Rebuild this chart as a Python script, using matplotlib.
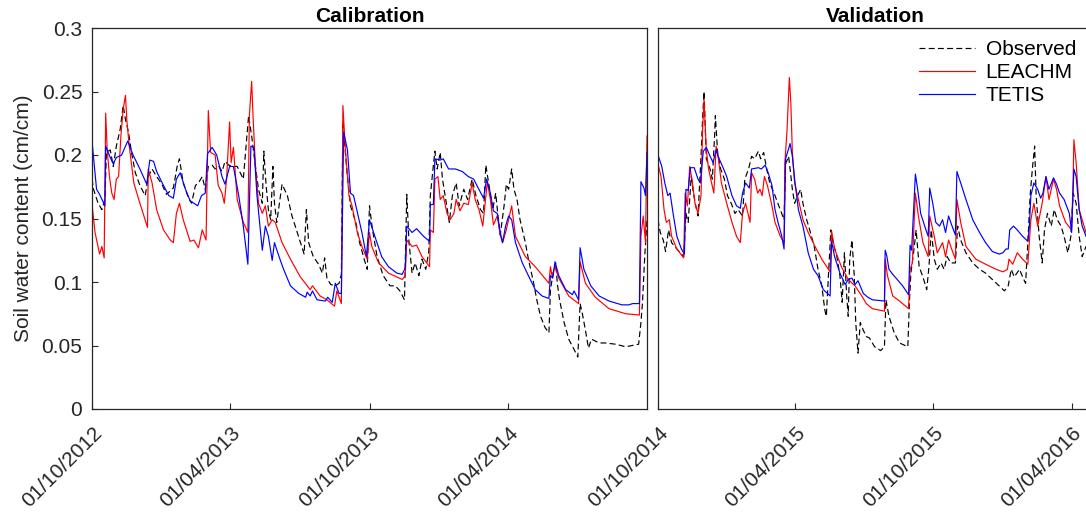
import numpy as np
import pandas as pd
import matplotlib
matplotlib.use("Agg")
import matplotlib.pyplot as plt
import matplotlib.dates as mdates
import matplotlib.transforms as mtransforms

plt.rcParams['font.family'] = ['Liberation Sans', 'DejaVu Sans']
plt.rcParams['font.size'] = 15

# Calibration period, days counted from 01/10/2012
cal_start = '2012-10-01'
cal_obs_days = [0, 2, 8, 13, 17, 19, 24, 28, 32, 37, 41, 44, 48, 52, 57, 63, 70, 74, 79, 85, 92, 98, 107, 112, 115,
                120, 127, 131, 136, 140, 145, 149, 153, 158, 162, 167, 171, 175, 180, 186, 191, 199, 206, 210, 215,
                219, 224, 226, 229, 232, 235, 238, 240, 243, 250, 257, 263, 270, 279, 282, 285, 291, 298, 303, 306,
                309, 314, 320, 325, 328, 330, 335, 340, 347, 352, 358, 362, 365, 369, 375, 383, 392, 399, 405, 411,
                414, 417, 421, 425, 430, 434, 439, 443, 445, 448, 451, 454, 458, 461, 466, 470, 474, 479, 483, 489,
                494, 500, 505, 511, 515, 518, 523, 527, 531, 534, 537, 542, 545, 548, 552, 555, 559, 563, 570, 574,
                581, 585, 590, 596, 601, 603, 606, 610, 612, 615, 621, 627, 634, 639, 642, 645, 649, 653, 657, 667,
                675, 689, 702, 719, 722, 724, 727, 730]
cal_obs = [.181, .173, .162, .157, .165, .202, .204, .191, .207, .22, .239, .228, .218, .202, .186, .176, .168, .183,
           .189, .183, .177, .169, .174, .191, .197, .178, .166, .162, .176, .178, .183, .173, .191, .192, .189, .191,
           .187, .195, .192, .191, .191, .181, .231, .215, .191, .173, .162, .203, .176, .157, .149, .191, .162, .147,
           .177, .168, .152, .139, .122, .157, .131, .12, .114, .107, .119, .103, .098, .097, .099, .106, .226, .189,
           .16, .147, .131, .118, .11, .16, .141, .12, .105, .097, .097, .093, .086, .169, .131, .107, .115, .105,
           .118, .11, .124, .168, .186, .203, .189, .202, .181, .162, .147, .168, .178, .16, .173, .165, .181, .168,
           .157, .154, .192, .173, .157, .17, .152, .137, .16, .177, .173, .189, .173, .165, .149, .131, .118, .099,
           .086, .073, .064, .06, .094, .105, .115, .099, .086, .068, .055, .047, .041, .083, .075, .062, .048, .055,
           .052, .052, .051, .049, .051, .068, .083, .12, .149]

cal_leachm_days = [0, 4, 10, 13, 16, 18, 20, 23, 26, 29, 32, 35, 38, 41, 44, 46, 49, 55, 63, 73, 74, 79, 85, 94, 103,
                   107, 111, 115, 120, 129, 134, 140, 145, 150, 153, 156, 162, 166, 171, 174, 177, 181, 183, 186, 191,
                   199, 205, 207, 210, 212, 215, 219, 224, 228, 232, 237, 241, 250, 261, 274, 287, 290, 300, 309, 319,
                   322, 328, 330, 333, 338, 342, 349, 355, 362, 365, 368, 377, 390, 408, 412, 414, 421, 427, 434, 444,
                   445, 449, 451, 455, 458, 462, 467, 471, 476, 479, 484, 489, 495, 500, 504, 509, 514, 520, 524, 528,
                   533, 537, 540, 544, 548, 552, 557, 570, 583, 601, 603, 605, 609, 614, 627, 640, 642, 649, 662, 680,
                   702, 720, 722, 725, 728, 730]
cal_leachm = [.161, .139, .122, .128, .119, .233, .204, .183, .17, .165, .181, .183, .215, .236, .247, .226, .207, .178,
              .162, .143, .189, .178, .157, .141, .133, .131, .154, .162, .149, .132, .133, .127, .141, .133, .235, .202,
              .2, .176, .17, .162, .181, .226, .194, .206, .165, .147, .139, .231, .258, .228, .191, .162, .154, .16,
              .144, .149, .147, .131, .118, .104, .094, .097, .089, .086, .081, .093, .083, .239, .207, .168, .16, .139,
              .128, .118, .139, .128, .115, .107, .102, .105, .133, .128, .129, .12, .112, .141, .139, .181, .183, .165,
              .168, .154, .149, .154, .165, .156, .162, .161, .178, .165, .157, .144, .179, .165, .145, .152, .137, .131,
              .139, .149, .16, .136, .12, .112, .099, .112, .105, .112, .103, .089, .083, .116, .099, .088, .079, .075,
              .074, .136, .152, .131, .215]

cal_tetis_days = [0, 6, 10, 17, 18, 24, 28, 32, 39, 47, 54, 63, 72, 76, 81, 85, 94, 101, 107, 111, 116, 123, 129, 139,
                  144, 149, 152, 158, 164, 171, 175, 181, 186, 193, 199, 205, 206, 209, 213, 217, 224, 228, 232, 237,
                  240, 246, 252, 261, 272, 281, 283, 287, 290, 296, 307, 310, 316, 320, 325, 328, 331, 336, 340, 344,
                  349, 355, 361, 365, 372, 381, 390, 401, 408, 412, 414, 421, 427, 436, 444, 445, 449, 451, 458, 462,
                  469, 478, 487, 495, 502, 508, 515, 519, 524, 528, 533, 537, 540, 544, 548, 552, 557, 566, 574, 583,
                  592, 601, 603, 606, 609, 614, 623, 632, 634, 640, 642, 647, 656, 667, 680, 697, 706, 711, 720, 722,
                  726, 728, 730]
cal_tetis = [.211, .173, .169, .16, .207, .198, .193, .198, .2, .211, .2, .189, .177, .196, .195, .187, .176, .168,
             .166, .181, .186, .173, .164, .16, .168, .17, .201, .206, .2, .183, .177, .191, .191, .168, .144, .114,
             .136, .207, .206, .168, .125, .144, .136, .117, .131, .12, .11, .097, .091, .088, .092, .089, .093, .086,
             .085, .088, .084, .099, .091, .091, .218, .204, .17, .168, .155, .139, .12, .149, .136, .12, .112, .107,
             .106, .111, .144, .139, .142, .136, .132, .161, .161, .197, .196, .197, .189, .189, .187, .183, .181, .174,
             .166, .181, .17, .156, .154, .139, .131, .144, .152, .149, .131, .115, .105, .094, .089, .087, .105, .103,
             .116, .105, .094, .09, .093, .086, .127, .11, .097, .089, .085, .082, .082, .083, .083, .179, .174, .168,
             .202]

# Validation period, days counted from 01/10/2014
val_start = '2014-10-01'
val_obs_days = [0, 3, 7, 10, 14, 18, 25, 34, 37, 40, 44, 47, 50, 53, 57, 59, 61, 64, 69, 72, 75, 76, 79, 83, 88, 92,
                97, 102, 106, 112, 115, 120, 124, 128, 133, 136, 140, 144, 148, 155, 162, 167, 169, 173, 175, 178, 181,
                185, 189, 192, 197, 201, 207, 212, 217, 221, 223, 229, 232, 237, 241, 244, 247, 250, 252, 254, 257,
                260, 262, 265, 268, 272, 276, 280, 287, 295, 300, 302, 306, 313, 320, 331, 333, 335, 338, 342, 346,
                351, 356, 359, 362, 366, 370, 375, 379, 383, 388, 394, 397, 401, 408, 417, 426, 434, 443, 452, 459,
                464, 468, 472, 479, 483, 487, 490, 493, 496, 499, 501, 505, 509, 512, 516, 521, 525, 529, 534, 538,
                543, 547, 550, 554, 558, 562, 567, 575]
val_obs = [.149, .139, .133, .124, .141, .131, .126, .12, .154, .147, .183, .17, .16, .152, .199, .228, .25, .197, .189,
           .181, .215, .231, .202, .189, .181, .168, .162, .154, .157, .152, .181, .189, .199, .197, .203, .197, .202,
           .189, .178, .168, .157, .149, .193, .199, .189, .173, .162, .168, .173, .162, .149, .141, .128, .11, .097,
           .078, .073, .141, .131, .12, .105, .084, .123, .089, .073, .118, .133, .105, .068, .044, .068, .062, .057,
           .056, .049, .046, .049, .086, .073, .06, .052, .049, .083, .107, .12, .141, .112, .104, .094, .112, .141,
           .118, .11, .115, .11, .12, .115, .115, .144, .133, .123, .115, .11, .107, .102, .097, .093, .097, .11, .104,
           .11, .104, .099, .131, .168, .189, .207, .168, .136, .115, .141, .154, .144, .157, .149, .144, .136, .123,
           .136, .17, .162, .136, .12, .128, .122]

val_leachm_days = [0, 4, 8, 11, 15, 18, 25, 34, 36, 39, 42, 45, 49, 53, 57, 59, 61, 64, 67, 71, 74, 77, 80, 84, 91,
                   98, 104, 109, 112, 116, 122, 124, 128, 132, 135, 138, 141, 145, 151, 155, 162, 167, 168, 171, 174,
                   176, 178, 181, 186, 192, 199, 208, 217, 228, 230, 234, 243, 252, 261, 270, 276, 284, 300, 301, 304,
                   311, 320, 332, 334, 337, 341, 345, 351, 358, 360, 366, 370, 377, 381, 385, 389, 394, 396, 401, 408,
                   421, 434, 448, 457, 463, 465, 470, 476, 483, 490, 494, 498, 503, 509, 514, 518, 524, 528, 532, 540,
                   548, 550, 551, 554, 558, 562, 567, 575]
val_leachm = [.193, .183, .157, .147, .149, .136, .126, .119, .17, .16, .191, .181, .162, .154, .168, .218, .244, .204,
              .189, .178, .17, .207, .197, .178, .162, .147, .136, .131, .154, .162, .147, .186, .181, .17, .173, .168,
              .183, .176, .16, .147, .136, .131, .193, .22, .261, .241, .202, .178, .165, .149, .139, .128, .118, .108,
              .14, .126, .112, .102, .097, .089, .083, .079, .077, .118, .105, .089, .085, .079, .11, .115, .17, .152,
              .131, .12, .152, .136, .123, .131, .12, .133, .126, .118, .165, .147, .128, .118, .114, .11, .108, .11,
              .118, .114, .123, .118, .114, .149, .162, .144, .162, .183, .165, .181, .173, .16, .147, .141, .181, .212,
              .194, .157, .149, .139, .134]

val_tetis_days = [0, 5, 9, 13, 16, 20, 25, 31, 35, 37, 40, 43, 48, 53, 56, 60, 64, 69, 73, 77, 81, 87, 91, 98, 104,
                  109, 112, 116, 121, 124, 133, 137, 142, 146, 151, 155, 159, 164, 167, 169, 173, 175, 178, 181, 186,
                  192, 199, 206, 212, 219, 228, 230, 234, 241, 248, 252, 257, 261, 265, 272, 278, 284, 300, 301, 303,
                  306, 311, 317, 324, 332, 334, 336, 341, 344, 348, 355, 358, 360, 364, 368, 373, 377, 381, 385, 389,
                  394, 396, 401, 408, 417, 426, 434, 443, 452, 457, 461, 464, 466, 471, 476, 483, 490, 492, 494, 498,
                  503, 507, 510, 514, 518, 524, 528, 532, 538, 545, 548, 551, 554, 558, 562, 567, 575]
val_tetis = [.2, .191, .178, .168, .17, .154, .136, .126, .122, .173, .172, .19, .19, .181, .178, .203, .206, .199, .194,
             .204, .197, .189, .183, .168, .16, .158, .17, .178, .174, .189, .19, .189, .192, .186, .176, .157, .147,
             .136, .126, .197, .205, .209, .199, .181, .157, .144, .123, .11, .105, .094, .089, .132, .12, .107, .098,
             .102, .103, .098, .101, .091, .088, .086, .085, .125, .121, .11, .106, .102, .097, .09, .129, .125, .185,
             .173, .154, .141, .136, .174, .162, .147, .144, .149, .139, .152, .145, .137, .187, .178, .165, .149, .139,
             .131, .124, .122, .123, .126, .126, .141, .144, .141, .136, .132, .144, .168, .178, .173, .166, .17, .183,
             .173, .182, .177, .17, .165, .154, .139, .189, .183, .157, .144, .136, .131]


def to_dates(start, days):
    return pd.Timestamp(start) + pd.to_timedelta(days, unit='D')


fig = plt.figure(figsize=(10.86, 5.13), dpi=100)
W, H = 1086, 513
ax1 = fig.add_axes([92 / W, 1 - 409 / H, 555 / W, 381 / H])
ax2 = fig.add_axes([658 / W, 1 - 409 / H, 434 / W, 381 / H])

dash = (0, (5, 2.8))
lw = 0.85

for ax, start, od, ov, ld, lv, td, tv in [
        (ax1, cal_start, cal_obs_days, cal_obs, cal_leachm_days, cal_leachm, cal_tetis_days, cal_tetis),
        (ax2, val_start, val_obs_days, val_obs, val_leachm_days, val_leachm, val_tetis_days, val_tetis)]:
    ax.plot(to_dates(start, od), ov, color='black', linestyle=dash, lw=lw, label='Observed')
    ax.plot(to_dates(start, ld), lv, color='#ff0000', lw=lw, label='LEACHM')
    ax.plot(to_dates(start, td), tv, color='#0000ff', lw=lw, label='TETIS')
    ax.set_ylim(0, 0.3)
    for s in ax.spines.values():
        s.set_color('#262626')
        s.set_linewidth(0.9)
    ax.xaxis.set_major_formatter(mdates.DateFormatter('%d/%m/%Y'))
    ax.tick_params(axis='both', direction='in', length=4, width=0.8, colors='#262626', labelsize=15, pad=4)

ax1.set_xlim(pd.Timestamp('2012-10-01'), pd.Timestamp('2014-10-01'))
ax1.set_xticks([pd.Timestamp(d) for d in ['2012-10-01', '2013-04-01', '2013-10-01', '2014-04-01']])
ax2.set_xlim(pd.Timestamp('2014-10-01'), pd.Timestamp('2016-04-28'))
ax2.set_xticks([pd.Timestamp(d) for d in ['2014-10-01', '2015-04-01', '2015-10-01', '2016-04-01']])

ax1.set_yticks([0, 0.05, 0.1, 0.15, 0.2, 0.25, 0.3])
ax1.set_yticklabels(['0', '0.05', '0.1', '0.15', '0.2', '0.25', '0.3'])
ax1.tick_params(axis='y', pad=7)
ax2.set_yticks([])

# rotated date labels, nudged so their end sits just right of the tick
shift = mtransforms.ScaledTranslation(5 / 72, -11 / 72, fig.dpi_scale_trans)
for ax in (ax1, ax2):
    for lab in ax.get_xticklabels():
        lab.set_rotation(45)
        lab.set_ha('right')
        lab.set_va('center')
        lab.set_rotation_mode('anchor')
        lab.set_transform(lab.get_transform() + shift)

ax1.set_ylabel('Soil water content (cm/cm)', fontsize=15, color='#262626', labelpad=6)
ax1.set_title('Calibration', fontsize=15, fontweight='bold', pad=4)
ax2.set_title('Validation', fontsize=15, fontweight='bold', pad=4)

fig.legend(*ax2.get_legend_handles_labels(), loc='upper left', bbox_to_anchor=(919 / W, 1 - 40 / H),
           frameon=False, fontsize=15, handlelength=2.7, handletextpad=0.5, labelspacing=0.2,
           borderpad=0, borderaxespad=0)

fig.savefig('out.png', dpi=100)
